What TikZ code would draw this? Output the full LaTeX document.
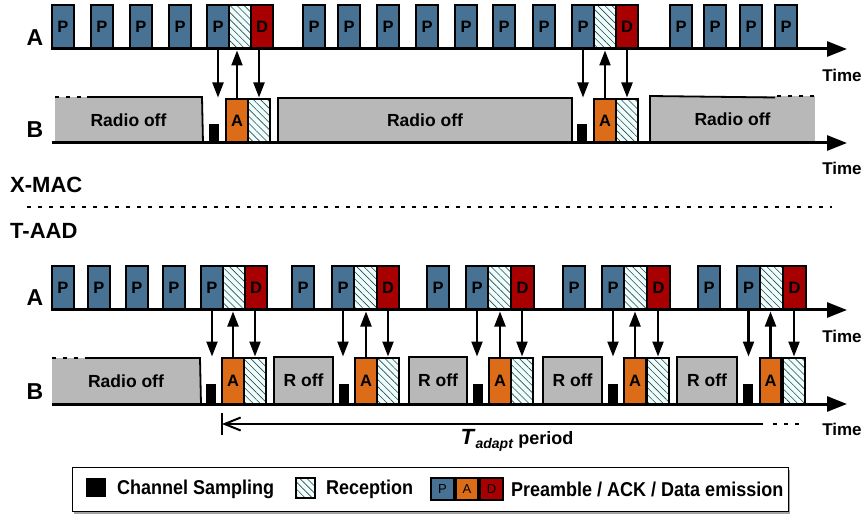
\documentclass[tikz,border=0pt]{standalone}
\usepackage{fontspec}
\setmainfont{Liberation Sans}
\newfontfamily\legfont[FakeStretch=0.9]{Liberation Sans}
\usetikzlibrary{arrows.meta,patterns.meta,shadows}
\definecolor{pblue}{RGB}{72,114,148}
\definecolor{dred}{RGB}{168,0,0}
\definecolor{aorange}{RGB}{220,108,24}
\definecolor{offgray}{RGB}{184,184,184}
\definecolor{hatchbg}{RGB}{235,255,255}
\newcommand\mybox[7]{%
  \pgfmathsetmacro\bxw{(#5)-(#3)}%
  \pgfmathsetmacro\bxh{(#6)-(#4)}%
  \node[#2, minimum width=\bxw pt, minimum height=\bxh pt] (#1) at (#3,#4) {#7};}
\newcommand\sigs[1]{%
  \draw[sig] (#1p.south) -- (#1p.south |- #1a.north);
  \draw[sig] (#1a.north) -- (#1a.north |- #1p.south);
  \draw[sig] (#1r.north |- #1d.south) -- (#1r.north);}
\tikzset{
  base/.style={inner sep=0pt, outer sep=0pt, anchor=north west, line width=1.8pt,
    font=\bfseries\fontsize{16.5}{18}\selectfont},
  pbox/.style={base, draw, fill=pblue},
  dbox/.style={base, draw, fill=dred},
  abox/.style={base, draw, fill=aorange},
  hbox/.style={base, draw, preaction={fill=hatchbg},
    pattern={Lines[angle=-45,distance=5pt,line width=0.6pt]}, pattern color=black!75},
  sbox/.style={base, fill=black},
  offbox/.style={base, draw, fill=offgray, font=\bfseries\fontsize{17.5}{19}\selectfont},
  offnb/.style={base, fill=offgray, font=\bfseries\fontsize{17.5}{19}\selectfont},
  bord/.style={line width=1.8pt},
  axis/.style={line width=3pt, -{Triangle[length=20pt,width=15pt]}},
  sig/.style={line width=2.2pt, shorten >=1.5pt, -{Triangle[length=15pt,width=11pt]}},
  dots/.style={line width=2pt, dash pattern=on 4pt off 7pt},
  lbl/.style={font=\bfseries\fontsize{23}{25}\selectfont},
  ttl/.style={font=\bfseries\fontsize{22}{24}\selectfont, anchor=west, inner sep=0pt},
  timel/.style={font=\bfseries\fontsize{17}{19}\selectfont},
  legt/.style={font=\legfont\bfseries\fontsize{20}{22}\selectfont, anchor=west, inner sep=0pt},
  legsmall/.style={font=\fontsize{13}{14}\selectfont},
}
\begin{document}
\begin{tikzpicture}[x=1pt,y=-1pt]
\useasboundingbox (0,0) rectangle (864,518);

% ===================== X-MAC =====================
% A row
\foreach \x [count=\i] in {52,91,130,169,303,338,377,416,455,493,533,670,704,740,775}
  {\mybox{xp\i}{pbox}{\x}{5}{\x+22}{49}{P}}
\mybox{xg1p}{pbox}{207}{5}{229}{49}{P}
\mybox{xg1h}{hbox}{229}{5}{251}{49}{}
\mybox{xg1d}{dbox}{251}{5}{273}{49}{D}
\mybox{xg2p}{pbox}{572}{5}{594}{49}{P}
\mybox{xg2h}{hbox}{594}{5}{616}{49}{}
\mybox{xg2d}{dbox}{616}{5}{638}{49}{D}
% B row
\mybox{xro1}{offnb}{55}{97}{202}{143}{Radio off}
\draw[dots] (55,97) -- (87,97);
\draw[bord] (87,97) -- (202,97) -- (203,143);
\mybox{xro2}{offbox}{278}{98}{572}{143}{Radio off}
\mybox{xro3}{offnb}{650}{96}{815}{143}{Radio off}
\draw[bord] (650,143) -- (650,96) -- (775,97.5);
\draw[dots] (777,96) -- (815,96);
\mybox{xg1s}{sbox}{209}{124}{219}{143}{}
\mybox{xg1a}{abox}{226}{99}{248}{143}{A}
\mybox{xg1r}{hbox}{248}{99}{270}{143}{}
\mybox{xg2s}{sbox}{577}{124}{587}{143}{}
\mybox{xg2a}{abox}{594}{99}{616}{143}{A}
\mybox{xg2r}{hbox}{616}{99}{638}{143}{}
% axes
\coordinate (xa0) at (52,49); \coordinate (xa1) at (847,49);
\coordinate (xb0) at (52,143); \coordinate (xb1) at (847,143);
\draw[axis] (xa0) -- (xa1);
\draw[axis] (xb0) -- (xb1);
\sigs{xg1}
\sigs{xg2}
\node[lbl] (xlA) at (35,38) {A};
\node[lbl] (xlB) at (35,130) {B};
\node[timel] (xt1) at (842,75) {Time};
\node[timel] (xt2) at (842,168) {Time};

% titles and separator
\node[ttl] (xmac) at (10,185) {X-MAC};
\coordinate (sep0) at (27,207); \coordinate (sep1) at (832,207);
\draw[dots] (sep0) -- (sep1);
\node[ttl] (taad) at (10,231) {T-AAD};

% ===================== T-AAD =====================
\foreach \x [count=\i] in {52,88,126,163,292,427,563,698}
  {\mybox{tp\i}{pbox}{\x}{266}{\x+22}{310}{P}}
% groups: A row
\mybox{tg1p}{pbox}{201}{266}{223}{310}{P}
\mybox{tg1h}{hbox}{223}{266}{245}{310}{}
\mybox{tg1d}{dbox}{245}{266}{267}{310}{D}
\mybox{tg2p}{pbox}{332}{266}{354}{310}{P}
\mybox{tg2h}{hbox}{354}{266}{377}{310}{}
\mybox{tg2d}{dbox}{377}{266}{399}{310}{D}
\mybox{tg3p}{pbox}{466}{266}{488}{310}{P}
\mybox{tg3h}{hbox}{488}{266}{511}{310}{}
\mybox{tg3d}{dbox}{511}{266}{534}{310}{D}
\mybox{tg4p}{pbox}{602}{266}{624}{310}{P}
\mybox{tg4h}{hbox}{624}{266}{647}{310}{}
\mybox{tg4d}{dbox}{647}{266}{670}{310}{D}
\mybox{tg5p}{pbox}{737}{266}{760}{310}{P}
\mybox{tg5h}{hbox}{760}{266}{783}{310}{}
\mybox{tg5d}{dbox}{783}{266}{806}{310}{D}
% B row
\mybox{tro0}{offnb}{52}{358}{200}{404}{Radio off}
\draw[dots] (52,358) -- (85,358);
\draw[bord] (85,358) -- (200,358) -- (201,404);
\mybox{tro1}{offbox}{274}{357}{333}{404}{R off}
\mybox{tro2}{offbox}{409}{357}{467}{404}{R off}
\mybox{tro3}{offbox}{543}{357}{602}{404}{R off}
\mybox{tro4}{offbox}{677}{357}{737}{404}{R off}
\mybox{tg1s}{sbox}{206}{384}{216}{404}{}
\mybox{tg1a}{abox}{222}{358}{244}{404}{A}
\mybox{tg1r}{hbox}{244}{358}{266}{404}{}
\mybox{tg2s}{sbox}{339}{384}{349}{404}{}
\mybox{tg2a}{abox}{355}{358}{377}{404}{A}
\mybox{tg2r}{hbox}{377}{358}{399}{404}{}
\mybox{tg3s}{sbox}{473}{384}{483}{404}{}
\mybox{tg3a}{abox}{489}{358}{511}{404}{A}
\mybox{tg3r}{hbox}{511}{358}{533}{404}{}
\mybox{tg4s}{sbox}{608}{384}{618}{404}{}
\mybox{tg4a}{abox}{624}{358}{646}{404}{A}
\mybox{tg4r}{hbox}{647}{358}{669}{404}{}
\mybox{tg5s}{sbox}{743}{384}{753}{404}{}
\mybox{tg5a}{abox}{760}{358}{781}{404}{A}
\mybox{tg5r}{hbox}{783}{358}{805}{404}{}
% axes
\coordinate (ta0) at (52,310); \coordinate (ta1) at (847,310);
\coordinate (tb0) at (52,404); \coordinate (tb1) at (847,404);
\draw[axis] (ta0) -- (ta1);
\draw[axis] (tb0) -- (tb1);
\sigs{tg1}
\sigs{tg2}
\sigs{tg3}
\sigs{tg4}
\sigs{tg5}
\node[lbl] (tlA) at (35,298) {A};
\node[lbl] (tlB) at (35,392) {B};
\node[timel] (tt1) at (842,336) {Time};
\node[timel] (tt2) at (842,429) {Time};

% T_adapt period
\coordinate (tbar0) at (222,413); \coordinate (tbar1) at (222,435);
\coordinate (tps) at (222,424); \coordinate (tpe) at (763,424);
\coordinate (tpd0) at (773,424); \coordinate (tpd1) at (805,424);
\draw[line width=2pt] (tbar0) -- (tbar1);
\draw[line width=2pt, {Straight Barb[length=16pt,width=13pt,line width=2pt]}-] (tps) -- (tpe);
\draw[dots] (tpd0) -- (tpd1);
\node (tad) at (517,440) {\bfseries\fontsize{22}{24}\selectfont\textit{T}\raisebox{-0.35ex}{\fontsize{14}{15}\selectfont\textit{adapt}}\fontsize{18}{20}\selectfont{} period};

% ===================== Legend =====================
\mybox{leg}{base, draw, line width=1pt, fill=white, drop shadow={shadow xshift=2pt, shadow yshift=-3pt, fill=black!60, opacity=0.6}}{72}{467}{788}{511}{}
\mybox{lgs}{sbox}{86}{478}{106}{497}{}
\node[legt] (lgst) at (117,489) {Channel Sampling};
\mybox{lgh}{hbox, line width=1.5pt}{296}{478}{315}{498}{}
\node[legt] (lght) at (326,489) {Reception};
\mybox{lgp}{pbox, legsmall}{431}{478}{454}{500}{P}
\mybox{lga}{abox, legsmall}{456}{478}{478}{500}{A}
\mybox{lgd}{dbox, legsmall}{480}{478}{503}{500}{D}
\node[legt] (lgpt) at (511,489) {Preamble / ACK / Data emission};
\end{tikzpicture}
\end{document}
